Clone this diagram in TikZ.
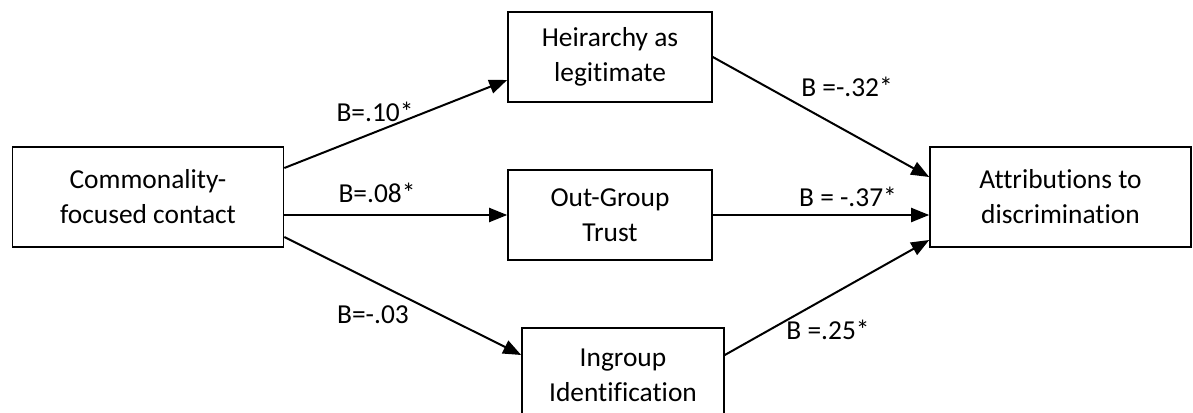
\documentclass[tikz,border=0pt]{standalone}
\usepackage{fontspec}
\setmainfont{Carlito}[Ligatures=NoCommon]
\usetikzlibrary{arrows.meta,calc}
\begin{document}
\begin{tikzpicture}[x=0.5pt,y=-0.5pt,
  box/.style={draw=black,line width=0.8pt,fill=white,align=center,inner sep=0pt,
    font=\fontsize{13.7}{17.5}\selectfont},
  conn/.style={line width=1pt,-{Triangle[length=9pt,width=7pt]}},
  lbl/.style={font=\fontsize{13.7}{17.5}\selectfont,inner sep=0pt}]
\useasboundingbox (0,0) rectangle (1193,412);
\node[box,minimum width=135.5pt,minimum height=50pt] (L) at (148,197) {Commonality-\\focused contact};
\node[box,minimum width=102pt,minimum height=45pt] (H) at (610,57) {Heirarchy as\\legitimate};
\node[box,minimum width=102pt,minimum height=45pt] (O) at (610,215) {Out-Group\\Trust};
\node[box,minimum width=101pt,minimum height=47pt] (I) at (623,375) {Ingroup\\Identification};
\node[box,minimum width=130.5pt,minimum height=50pt] (A) at (1060.5,197) {Attributions to\\discrimination};
\draw[conn] ($(L.east)+(0,-29)$) -- ($(H.west)+(0,23)$);
\draw[conn] (L.east |- O.west) -- (O.west);
\draw[conn] ($(L.east)+(0,40)$) -- ($(I.west)+(0,-20)$);
\draw[conn] (H.east) -- ($(A.west)+(0,-20)$);
\draw[conn] (O.east) -- (O.east -| A.west);
\draw[conn] ($(I.east)+(0,-20)$) -- ($(A.west)+(0,43)$);
\node[lbl] (l1) at (375,112) {B=.10*};
\node[lbl] (l2) at (377,193) {B=.08*};
\node[lbl] (l3) at (373,315) {B=-.03};
\node[lbl] (l4) at (847,87) {B =-.32*};
\node[lbl] (l5) at (848,197) {B = -.37*};
\node[lbl] (l6) at (828,330) {B =.25*};
\end{tikzpicture}
\end{document}
